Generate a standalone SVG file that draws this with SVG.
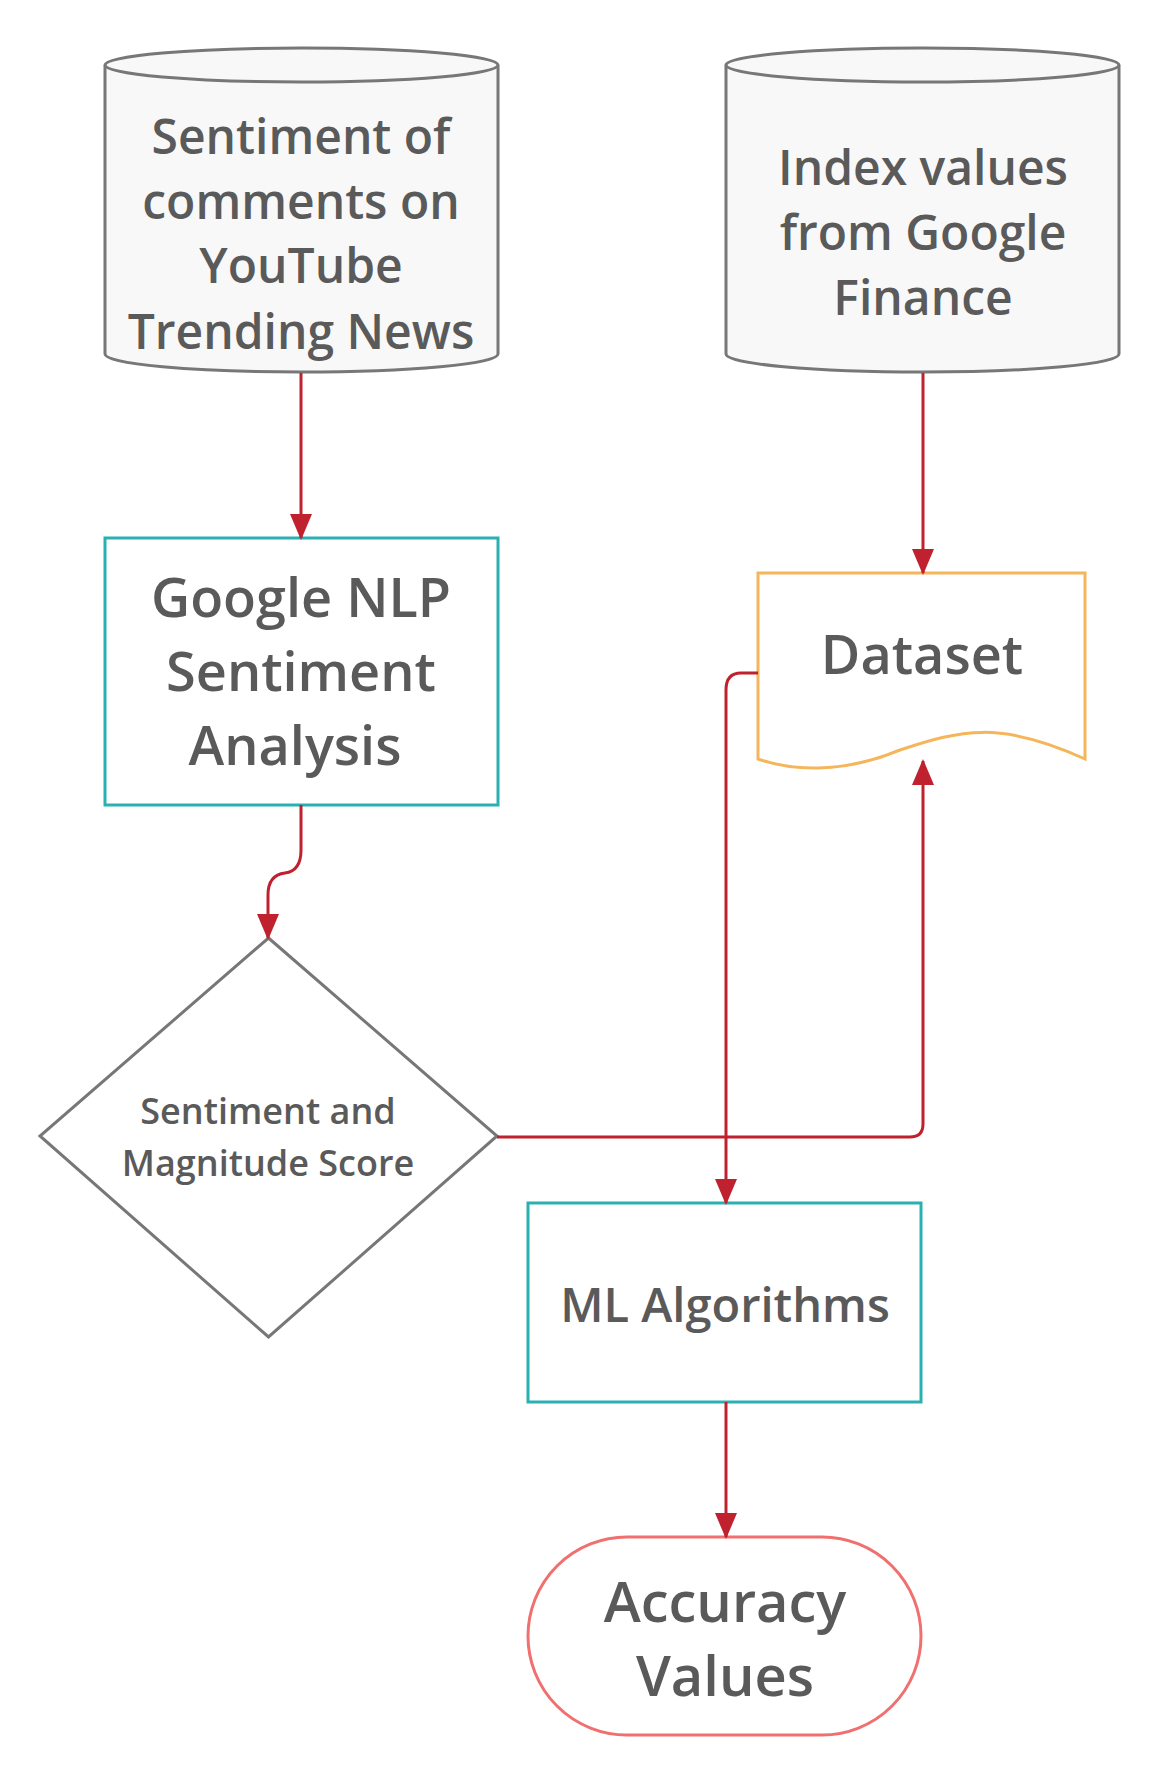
<svg xmlns="http://www.w3.org/2000/svg" width="1160" height="1780" viewBox="0 0 1160 1780">
<defs>
<marker id="ah" markerWidth="26" markerHeight="22" refX="24" refY="11" orient="auto" markerUnits="userSpaceOnUse" viewBox="0 0 26 22"><path d="M0,0 L26,11 L0,22 Z" fill="#c0212f"/></marker>
<style>
.t{font-family:"Open Sans","Noto Sans",sans-serif;font-weight:600;fill:#5a5a5a;text-anchor:middle}
.g{fill:#f8f8f8;stroke:#777;stroke-width:3}
.c{fill:none;stroke:#c0212f;stroke-width:3;marker-end:url(#ah)}
</style>
</defs>
<rect width="1160" height="1780" fill="#fff"/>
<g id="cyl1">
<path class="g" d="M105,65 V354 A196.5,18 0 0 0 498,354 V65"/>
<ellipse class="g" cx="301.5" cy="65" rx="196.5" ry="17"/>
<text class="t" font-size="48"><tspan x="301" y="154">Sentiment of</tspan><tspan x="301" y="219">comments on</tspan><tspan x="301" y="283">YouTube</tspan><tspan x="301" y="349">Trending News</tspan></text>
</g>
<g id="cyl2">
<path class="g" d="M726,65 V354 A196.5,18 0 0 0 1119,354 V65"/>
<ellipse class="g" cx="922.5" cy="65" rx="196.5" ry="17"/>
<text class="t" font-size="48"><tspan x="923" y="185">Index values</tspan><tspan x="923" y="250">from Google</tspan><tspan x="923" y="315">Finance</tspan></text>
</g>
<g id="nlp">
<rect x="105" y="538" width="393" height="267" fill="#fff" stroke="#2ab0b0" stroke-width="3"/>
<text class="t" font-size="54"><tspan x="301" y="617">Google NLP</tspan><tspan x="301" y="691">Sentiment</tspan><tspan x="295" y="765">Analysis</tspan></text>
</g>
<g id="dataset">
<path d="M758,573 H1085 V759 C1000,720 960,730 900,750 C840,775 790,770 758,759 Z" fill="#fff" stroke="#f5b55a" stroke-width="3"/>
<text class="t" font-size="54" x="922" y="674">Dataset</text>
</g>
<g id="diamond">
<path d="M268.5,938 L497,1136 L268.5,1337 L40,1136 Z" fill="#fff" stroke="#777" stroke-width="3"/>
<text class="t" font-size="36"><tspan x="268" y="1124">Sentiment and</tspan><tspan x="268" y="1176">Magnitude Score</tspan></text>
</g>
<g id="ml">
<rect x="528" y="1203" width="393" height="199" fill="#fff" stroke="#2ab0b0" stroke-width="3"/>
<text class="t" font-size="47" x="725" y="1322">ML Algorithms</text>
</g>
<g id="acc">
<rect x="528" y="1537" width="393" height="198" rx="99" fill="#fff" stroke="#f07070" stroke-width="3"/>
<text class="t" font-size="56"><tspan x="725" y="1622">Accuracy</tspan><tspan x="725" y="1696">Values</tspan></text>
</g>
<g id="connectors">
<path class="c" d="M301,373 V538"/>
<path class="c" d="M923,373 V573"/>
<path class="c" d="M301,805 V850 Q301,871 285,873 Q268,875 268,895 V938"/>
<path class="c" d="M497,1137 H910 Q923,1137 923,1124 V761"/>
<path class="c" d="M758,673 H741 Q726,673 726,690 V1203"/>
<path class="c" d="M726,1402 V1537"/>
</g>
</svg>
